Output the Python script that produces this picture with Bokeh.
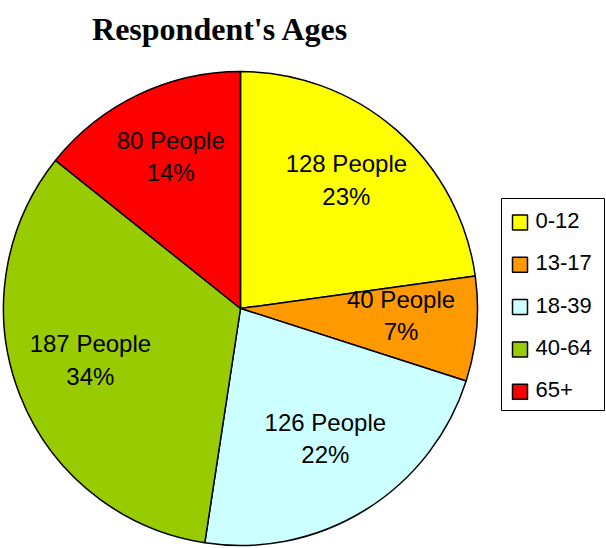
import math
from bokeh.plotting import figure
from bokeh.models import Range1d, ColumnDataSource
from bokeh.core.properties import value
from bokeh.embed import file_html
from bokeh.resources import INLINE

# ---- data ----
categories = ["0-12", "13-17", "18-39", "40-64", "65+"]
people = [128, 40, 126, 187, 80]
percents = [23, 7, 22, 34, 14]
colors = ["#FFFF00", "#FF9900", "#CCFFFF", "#99CC00", "#FF0000"]
title_text = "Respondent's Ages"

W, H = 606, 548
p = figure(width=W, height=H, output_backend="svg", toolbar_location=None,
           x_range=Range1d(0, W), y_range=Range1d(0, H),
           min_border=0, match_aspect=False)
p.axis.visible = False
p.grid.visible = False
p.outline_line_color = None
p.background_fill_color = "white"
p.border_fill_color = "white"

# pie geometry (layout)
cx, cy, R = 240, 240, 237
total = sum(people)
starts, ends, lx, ly, labels = [], [], [], [], []
cum = 0
for v, pc in zip(people, percents):
    a0 = math.pi / 2 - 2 * math.pi * cum / total
    a1 = math.pi / 2 - 2 * math.pi * (cum + v) / total
    starts.append(a0)
    ends.append(a1)
    mid = (a0 + a1) / 2
    lr = 0.68 * R
    lx.append(cx + lr * math.cos(mid))
    ly.append(cy + lr * math.sin(mid) + 7)
    labels.append(f"{v} People\n{pc}%")
    cum += v

src = ColumnDataSource(dict(start=starts, end=ends, color=colors,
                            lx=lx, ly=ly, label=labels, cat=categories))
p.wedge(x=cx, y=cy, radius=R, start_angle="start", end_angle="end",
        direction="clock", fill_color="color", line_color="black",
        line_width=1.5, source=src)
p.text(x="lx", y="ly", text="label", source=src,
       text_font=value("Liberation Sans"), text_font_size="24px",
       text_align="center", text_baseline="middle", text_line_height=1.2,
       text_color="black")

# title
p.text(x=[220], y=[520], text=[title_text], text_font=value("Liberation Serif"),
       text_font_style="bold", text_font_size="32px", text_align="center",
       text_baseline="alphabetic", text_color="black")

# legend (manual)
p.quad(left=[501], right=[604], top=[350], bottom=[138],
       fill_color="white", line_color="black", line_width=1)
row_y = [328 - 42.3 * i for i in range(len(categories))]
leg = ColumnDataSource(dict(y=row_y, sy=[y - 2 for y in row_y],
                            color=colors, cat=categories))
p.rect(x=519.5, y="sy", width=15, height=15, fill_color="color",
       line_color="black", line_width=1.5, source=leg)
p.text(x=535, y="y", text="cat", source=leg,
       text_font=value("Liberation Sans"), text_font_size="22px",
       text_align="left", text_baseline="middle", text_color="black")

open("out.html", "w").write(file_html(p, INLINE))
